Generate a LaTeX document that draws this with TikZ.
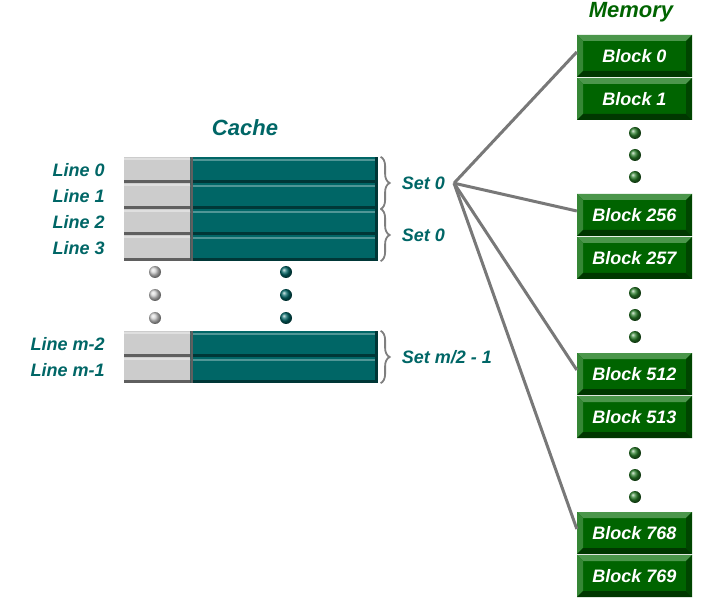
\documentclass[tikz,border=0pt]{standalone}
\usepackage{fontspec}
\setmainfont{Liberation Sans}
\usetikzlibrary{decorations.pathreplacing, positioning}

\definecolor{cacheteal}{RGB}{0,102,102}
\definecolor{tealdark}{RGB}{0,55,55}
\definecolor{teallight}{RGB}{80,150,150}
\definecolor{cachegray}{RGB}{204,204,204}
\definecolor{graydark}{RGB}{95,95,95}
\definecolor{memgreen}{RGB}{0,100,0}
\definecolor{memlight}{RGB}{75,150,75}
\definecolor{memdark}{RGB}{0,55,0}
\definecolor{wiregray}{RGB}{120,120,120}

\begin{document}
\begin{tikzpicture}[x=1pt, y=-1pt,
    % Text labels next to the cache and memory
    lbl/.style={font=\fontsize{18}{20}\selectfont\bfseries\itshape, text=cacheteal, inner sep=0pt},
    title/.style={font=\fontsize{22}{24}\selectfont\bfseries\itshape, inner sep=0pt},
    % Tag part of a cache line (light gray)
    tagcell/.style={
        fill=cachegray, minimum width=66pt, minimum height=26pt, inner sep=0pt,
        path picture={
            \fill[graydark] ([yshift=3pt]path picture bounding box.south west) rectangle (path picture bounding box.south east);
            \fill[gray!25] ([yshift=-1pt]path picture bounding box.north west) rectangle ([yshift=-3pt]path picture bounding box.north east);
        }
    },
    % Data part of a cache line (teal)
    datacell/.style={
        fill=cacheteal, minimum width=188pt, minimum height=26pt, inner sep=0pt,
        path picture={
            \fill[tealdark] ([yshift=3pt]path picture bounding box.south west) rectangle (path picture bounding box.south east);
            \fill[teallight] ([yshift=-2pt]path picture bounding box.north west) rectangle ([yshift=-4pt]path picture bounding box.north east);
            \fill[graydark] (path picture bounding box.north west) rectangle ([xshift=3pt]path picture bounding box.south west);
            \fill[tealdark] ([xshift=-3pt]path picture bounding box.north east) rectangle (path picture bounding box.south east);
        }
    },
    % Memory block with bevelled edges
    memblock/.style={
        fill=memgreen, minimum width=115pt, minimum height=42pt, inner sep=0pt,
        text=white, font=\fontsize{18}{20}\selectfont\bfseries\itshape,
        path picture={
            \fill[memlight] (path picture bounding box.north west) -- (path picture bounding box.north east)
                -- ([shift={(-6pt,-6pt)}]path picture bounding box.north east) -- ([shift={(6pt,-6pt)}]path picture bounding box.north west) -- cycle;
            \fill[memlight!70!memgreen] (path picture bounding box.north west) -- ([shift={(6pt,-6pt)}]path picture bounding box.north west)
                -- ([shift={(6pt,6pt)}]path picture bounding box.south west) -- (path picture bounding box.south west) -- cycle;
            \fill[memdark] (path picture bounding box.south west) -- (path picture bounding box.south east)
                -- ([shift={(-6pt,6pt)}]path picture bounding box.south east) -- ([shift={(6pt,6pt)}]path picture bounding box.south west) -- cycle;
            \fill[memdark!70!memgreen] (path picture bounding box.north east) -- (path picture bounding box.south east)
                -- ([shift={(-6pt,6pt)}]path picture bounding box.south east) -- ([shift={(-6pt,-6pt)}]path picture bounding box.north east) -- cycle;
        }
    },
    setbrace/.style={draw=graydark!80, line width=1.8pt, decorate, decoration={brace, amplitude=9pt}},
    wire/.style={draw=wiregray, line width=3pt}
]
\useasboundingbox (0,0) rectangle (701,601);

% 1. Cache lines: tag (gray) + data (teal) with their labels
\node[title, text=cacheteal] (cache) at (245,128) {Cache};
\foreach \i/\y/\t in {0/170/Line 0, 1/196/Line 1, 2/222/Line 2, 3/248/Line 3, m2/344/Line m-2, m1/370/Line m-1} {
    \node[tagcell] (tag\i) at (157,\y) {};
    \node[datacell, right=0pt of tag\i] (data\i) {};
    \node[lbl, left=19pt of tag\i] (line\i) {\t};
}

% 2. Dots between the lines
\foreach \y in {272, 295, 318} {
    \shade[ball color=gray!35] (155,\y) circle (6pt);
    \shade[ball color=cacheteal] (286,\y) circle (6pt);
}

% 3. Braces grouping two lines into a set
\draw[setbrace] ([xshift=2pt]data0.north east) -- ([xshift=2pt]data1.south east);
\draw[setbrace] ([xshift=2pt]data2.north east) -- ([xshift=2pt]data3.south east);
\draw[setbrace] ([xshift=2pt]datam2.north east) -- ([xshift=2pt]datam1.south east);
\node[lbl, anchor=west] (set0) at ([xshift=23pt]data0.south east) {Set 0};
\node[lbl, anchor=west] (set1) at ([xshift=23pt]data2.south east) {Set 0};
\node[lbl, anchor=west] (setm) at ([xshift=23pt]datam2.south east) {Set m/2 - 1};

% 4. Main memory blocks
\node[title, text=memgreen] (memory) at (631,12) {Memory};
\foreach \n/\y in {0/56, 1/99, 256/215, 257/258, 512/374, 513/417, 768/533, 769/576} {
    \node[memblock] (b\n) at (634.5,\y) {Block \n};
}
\foreach \y in {133, 155, 177, 293, 315, 337, 453, 475, 497} {
    \shade[ball color=memgreen!85] (635,\y) circle (6pt);
}

% 5. Set 0 may hold any of these blocks
\coordinate (hub) at ([xshift=9pt]set0.east);
\foreach \n in {0, 256, 512, 768} {
    \draw[wire] (hub) -- ([yshift=4pt]b\n.west);
}

\end{tikzpicture}
\end{document}
